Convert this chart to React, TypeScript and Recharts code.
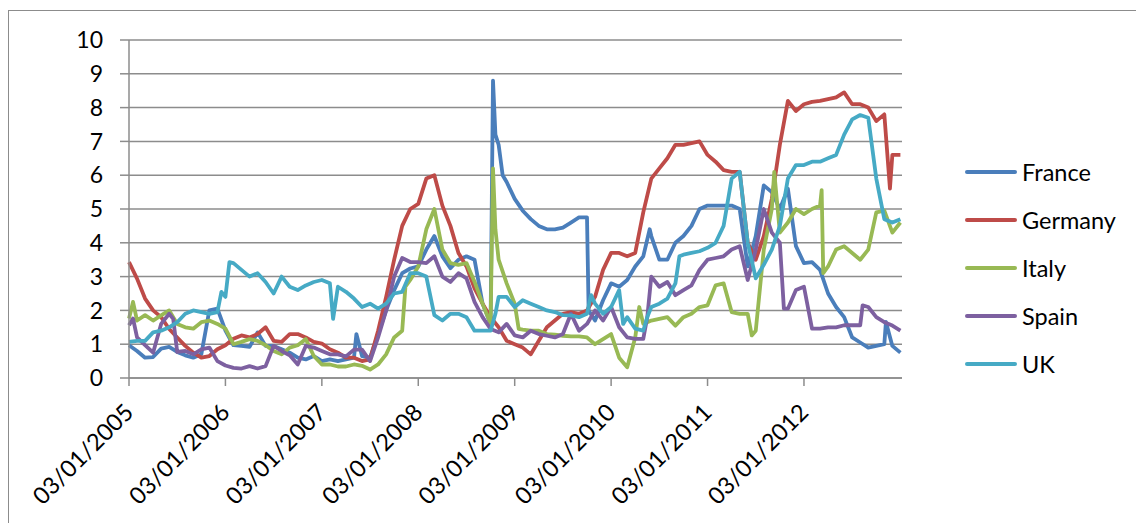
import { LineChart, Line, XAxis, YAxis, CartesianGrid } from 'recharts';

// months since Jan 2005 (extra fractional points where a series spikes)
const months = [
  0, 0.5, 1, 2, 3, 4, 5, 5.5, 6, 7, 8, 9, 10, 11, 11.5, 12, 12.5, 13, 14, 15, 16, 17, 18, 19, 20, 21, 22, 23,
  24, 25, 25.4, 26, 27, 28, 28.3, 29, 30, 31, 32, 33, 34, 34.4, 35, 36, 37, 38, 39, 40, 41, 42, 43, 44, 45,
  45.3, 45.6, 46, 46.5, 47, 48, 48.5, 49, 50, 51, 52, 53, 54, 55, 56, 57, 57.2, 57.5, 58, 59, 60, 61, 61.5,
  62, 63, 63.5, 64, 64.5, 64.8, 65, 66, 67, 68, 68.5, 69, 70, 71, 72, 73, 74, 75, 76, 77, 77.5, 78, 79, 80,
  80.3, 81, 81.5, 82, 83, 84, 85, 86, 86.2, 86.4, 87, 88, 89, 90, 91, 91.3, 92, 93, 94, 94.2, 94.7, 95, 96,
];

const france = [
  0.97, null, 0.8, 0.6, 0.62, 0.87, 0.92, null, 0.77, 0.67, 0.6, 0.7, 2.0, 2.05, null, 1.4, null, 0.97, 0.95, 0.92, 1.35, 0.95, 0.95, 0.85, 0.75, 0.6, 0.55, 0.65,
  0.5, 0.55, null, 0.5, 0.55, 0.6, 1.3, 0.65, 0.6, 1.3, 2.0, 2.6, 3.1, null, 3.24, 3.3, 3.8, 4.2, 3.6, 3.25, 3.5, 3.6, 3.5, 2.2, 1.6,
  8.8, 7.2, 6.9, 6.0, 5.8, 5.3, null, 4.95, 4.7, 4.5, 4.4, 4.4, 4.45, 4.6, 4.75, 4.75, 2.0, null, 1.7, 2.3, 2.8, 2.7, null,
  2.9, 3.3, null, 3.6, null, 4.4, 4.2, 3.5, 3.5, 4.0, null, 4.2, 4.5, 5.0, 5.1, 5.1, 5.1, 5.1, 5.0, 3.3, null, 4.2, 5.7, 5.5,
  null, 5.0, null, 5.6, 3.9, 3.4, 3.43, 3.2, null, null, 2.5, 2.1, 1.8, 1.2, 1.05, null, 0.9, 0.95, 1.0, 1.66, null, 0.95, 0.75,
];

const germany = [
  3.43, null, 2.94, 2.35, 2.0, 1.8, 1.45, null, 1.2, 0.95, 0.75, 0.6, 0.65, 0.85, null, 0.97, null, 1.16, 1.26, 1.2, 1.3, 1.5, 1.1, 1.07, 1.3, 1.3, 1.2, 1.07,
  1.02, 0.85, null, 0.75, 0.6, 0.6, null, 0.5, 0.55, 1.4, 2.4, 3.5, 4.5, null, 5.0, 5.15, 5.9, 6.0, 5.1, 4.5, 3.7, 3.3, 2.65, 2.2, 1.8,
  null, null, 1.5, null, 1.1, 1.0, null, 0.9, 0.7, 1.1, 1.5, 1.7, 1.9, 1.95, 1.9, 2.0, null, null, 2.4, 3.2, 3.7, 3.7, null,
  3.6, 3.7, null, 4.9, null, null, 5.9, 6.2, 6.5, 6.9, null, 6.9, 6.95, 7.0, 6.6, 6.4, 6.15, 6.1, 6.1, 4.0, null, 3.5, 4.2, 5.3,
  null, 6.9, null, 8.2, 7.9, 8.1, 8.17, 8.2, null, null, 8.25, 8.3, 8.45, 8.1, 8.1, null, 8.0, 7.6, 7.8, null, 5.6, 6.6, 6.6,
];

const italy = [
  1.76, 2.25, 1.7, 1.86, 1.7, 1.85, 2.0, null, 1.6, 1.5, 1.46, 1.65, 1.7, 1.6, null, 1.46, null, 1.0, 1.07, 1.15, 1.1, 0.97, 0.8, 0.7, 0.9, 0.97, 1.15, 0.65,
  0.4, 0.4, null, 0.34, 0.34, 0.4, null, 0.36, 0.25, 0.4, 0.7, 1.2, 1.4, 2.7, 2.9, 3.3, 4.4, 5.0, 3.8, 3.4, 3.35, 3.4, 2.85, 2.2, 1.6,
  6.2, 4.4, 3.5, null, 2.8, 2.2, 1.45, 1.43, 1.4, 1.4, 1.3, 1.28, 1.25, 1.23, 1.23, 1.2, null, null, 1.0, 1.15, 1.3, 0.6, null,
  0.32, 1.2, 2.1, 1.6, null, null, 1.7, 1.75, 1.8, 1.55, null, 1.8, 1.9, 2.1, 2.15, 2.74, 2.8, 1.95, 1.9, 1.9, 1.26, 1.4, 3.8, 5.0,
  6.1, 4.3, null, 4.6, 5.0, 4.85, 5.0, 5.1, 5.56, 3.1, 3.3, 3.8, 3.9, 3.7, 3.5, null, 3.8, 4.9, 4.95, null, null, 4.3, 4.6,
];

const spain = [
  1.56, 1.76, 1.2, 0.97, 0.75, 1.6, 1.9, 1.75, 0.77, 0.8, 0.7, 0.85, 0.9, 0.5, null, 0.37, null, 0.3, 0.28, 0.35, 0.28, 0.35, 0.95, 0.8, 0.67, 0.4, 0.95, 0.9,
  0.8, 0.7, null, 0.7, 0.64, 0.84, null, 0.84, 0.5, 1.2, 2.0, 3.0, 3.55, null, 3.43, 3.43, 3.4, 3.6, 3.0, 2.84, 3.1, 2.95, 2.25, 1.8, 1.45,
  null, null, 1.35, null, 1.6, 1.26, null, 1.2, 1.4, 1.3, 1.25, 1.2, 1.3, 1.9, 1.4, 1.6, null, null, 2.0, 1.7, 2.1, 1.5, null,
  1.2, 1.16, null, 1.16, 1.8, null, 3.0, 2.7, 2.84, 2.45, null, 2.6, 2.74, 3.2, 3.5, 3.55, 3.6, 3.8, 3.9, 2.9, null, 3.8, 5.0, 4.3,
  null, 4.0, 2.05, 2.05, 2.6, 2.7, 1.46, 1.46, null, null, 1.5, 1.5, 1.56, 1.56, 1.56, 2.15, 2.1, 1.8, 1.65, null, null, 1.55, 1.4,
];

const uk = [
  1.07, null, 1.1, 1.1, 1.35, 1.4, 1.5, null, 1.65, 1.9, 2.0, 1.95, 1.9, 1.95, 2.55, 2.4, 3.43, 3.4, 3.2, 3.0, 3.1, 2.84, 2.5, 3.0, 2.7, 2.6, 2.74, 2.84,
  2.9, 2.8, 1.75, 2.7, 2.55, 2.35, null, 2.1, 2.2, 2.05, 2.2, 2.5, 2.55, null, 3.1, 3.1, 3.0, 1.86, 1.7, 1.9, 1.9, 1.8, 1.4, 1.4, 1.4,
  null, 1.9, 2.4, null, 2.4, 2.1, null, 2.3, 2.2, 2.1, 2.0, 1.95, 1.86, 1.85, 1.8, 1.9, null, 2.45, 2.2, 1.9, 2.1, 2.6, 1.6,
  1.8, 1.46, null, 1.4, 1.8, null, 2.1, 2.2, 2.35, 2.8, 3.6, 3.65, 3.7, 3.75, 3.85, 4.0, 4.5, 5.9, 6.1, 4.0, null, 2.95, 3.35, 3.8,
  null, 4.5, null, 5.9, 6.3, 6.3, 6.4, 6.4, null, null, 6.5, 6.6, 7.2, 7.65, 7.78, null, 7.7, 5.9, 4.7, null, null, 4.6, 4.7,
];

const seriesNames = ['France', 'Germany', 'Italy', 'Spain', 'UK'];
const seriesColors = ['#4A7EBB', '#BE4B48', '#98B954', '#7D60A0', '#46AAC5'];
const seriesValues = [france, germany, italy, spain, uk];

const yTicks = [0, 1, 2, 3, 4, 5, 6, 7, 8, 9, 10];
const xTicks = [0, 12, 24, 36, 48, 60, 72, 84];
const xTickLabels = ['03/01/2005', '03/01/2006', '03/01/2007', '03/01/2008', '03/01/2009', '03/01/2010', '03/01/2011', '03/01/2012'];

const FONT = 'Lato, "Open Sans", sans-serif';
const GRID = '#8c8c8c';

const chartData = months.map((m, i) => {
  const row: Record<string, number | null> = { m };
  seriesNames.forEach((name, s) => {
    row[name] = seriesValues[s][i];
  });
  return row;
});

const DateTick = (props: any) => {
  const { x, y, payload } = props;
  const idx = xTicks.indexOf(payload.value);
  const tx = x;
  const ty = y + 20;
  return (
    <text
      x={tx}
      y={ty}
      dy="0.35em"
      transform={`rotate(-45 ${tx} ${ty})`}
      textAnchor="end"
      fontSize={23.5}
      fontFamily={FONT}
      fill="#000"
    >
      {xTickLabels[idx]}
    </text>
  );
};

export default function App() {
  return (
    <div style={{ position: 'absolute', left: 0, top: 0, width: 1136, height: 523, overflow: 'hidden', background: '#fff' }}>
      {/* chart frame */}
      <div
        style={{
          position: 'absolute',
          left: 8,
          top: 10,
          width: 1160,
          height: 600,
          border: `1.5px solid ${GRID}`,
        }}
      />
      <div style={{ position: 'absolute', left: 0, top: 0 }}>
        <LineChart width={1136} height={523} data={chartData} margin={{ top: 40, right: 234, bottom: 45, left: 69 }}>
          <CartesianGrid vertical={false} stroke={GRID} strokeWidth={1.5} />
          <XAxis
            dataKey="m"
            type="number"
            domain={[0, 96.2]}
            ticks={xTicks}
            height={100}
            tickSize={8}
            axisLine={{ stroke: GRID, strokeWidth: 1.5 }}
            tickLine={{ stroke: GRID, strokeWidth: 1.5 }}
            tick={<DateTick />}
            interval={0}
          />
          <YAxis
            domain={[0, 10]}
            ticks={yTicks}
            width={60}
            tickSize={9}
            tickMargin={17}
            axisLine={{ stroke: GRID, strokeWidth: 1.5 }}
            tickLine={{ stroke: GRID, strokeWidth: 1.5 }}
            tick={{ fontSize: 23, fill: '#000', fontFamily: FONT }}
            interval={0}
          />
          {seriesNames.map((name, s) => (
            <Line
              key={name}
              dataKey={name}
              type="linear"
              stroke={seriesColors[s]}
              strokeWidth={3.8}
              strokeLinejoin="round"
              dot={false}
              connectNulls
              isAnimationActive={false}
            />
          ))}
        </LineChart>
      </div>
      {/* legend */}
      <div style={{ position: 'absolute', left: 965, top: 148, fontFamily: FONT, fontSize: 23.5, color: '#000' }}>
        {seriesNames.map((name, s) => (
          <div key={name} style={{ display: 'flex', alignItems: 'center', height: 48 }}>
            <span style={{ display: 'inline-block', width: 52, height: 4, background: seriesColors[s], borderRadius: 2 }} />
            <span style={{ marginLeft: 5 }}>{name}</span>
          </div>
        ))}
      </div>
    </div>
  );
}
